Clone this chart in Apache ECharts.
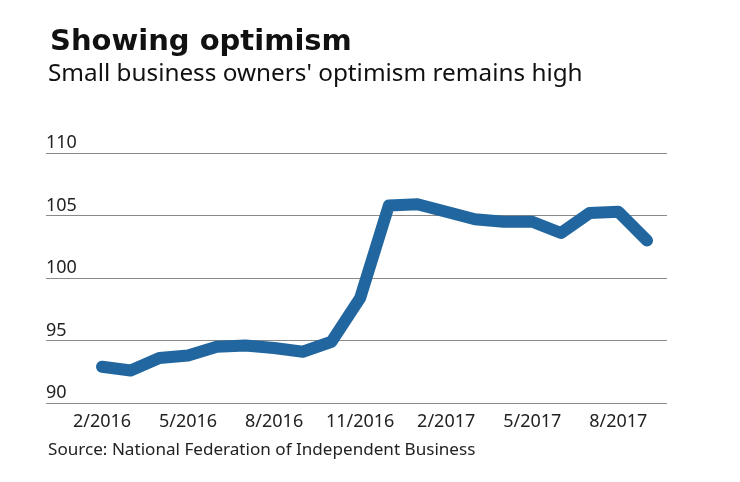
<!DOCTYPE html>
<html>
<head>
<meta charset="utf-8">
<script src="https://cdn.jsdelivr.net/npm/echarts@6/dist/echarts.min.js"></script>
<style>html,body{margin:0;padding:0;background:#fff;}#c{width:740px;height:482px;}</style>
</head>
<body>
<div id="c"></div>
<script>
const months = ['2/2016','3/2016','4/2016','5/2016','6/2016','7/2016','8/2016','9/2016','10/2016','11/2016','12/2016','1/2017','2/2017','3/2017','4/2017','5/2017','6/2017','7/2017','8/2017','9/2017'];
const optimism = [92.9,92.6,93.6,93.8,94.5,94.6,94.4,94.1,94.9,98.4,105.8,105.9,105.3,104.7,104.5,104.5,103.6,105.2,105.3,103.0];
const xLabelIdx = [0,3,6,9,12,15,18];
const yTicks = [90,95,100,105,110];

const chart = echarts.init(document.getElementById('c'), null, {renderer:'canvas'});
const font = 'Noto Sans';
chart.setOption({
  animation:false,
  title:[
    {text:'Showing optimism', left:45, top:23, textStyle:{fontFamily:'DejaVu Sans', fontWeight:'bold', fontSize:29, color:'#111'}},
    {text:"Small business owners' optimism remains high", left:43, top:57, textStyle:{fontFamily:font, fontWeight:'normal', fontSize:24.3, color:'#111'}},
    {text:'Source: National Federation of Independent Business', left:43, top:437, textStyle:{fontFamily:font, fontWeight:'normal', fontSize:17.1, color:'#222'}}
  ],
  grid:{left:46, right:73, top:153, bottom:79},
  xAxis:{type:'value', min:-1.952, max:19.697,
    axisLine:{show:false}, axisTick:{show:false}, splitLine:{show:false},
    axisLabel:{customValues:xLabelIdx, formatter:v=>months[Math.round(v)], fontFamily:font, fontSize:18, color:'#222', margin:10}
  },
  yAxis:{type:'value', min:90, max:110, interval:5,
    axisLine:{show:false}, axisTick:{show:false},
    splitLine:{lineStyle:{color:'#8a8a8a', width:1.2}},
    axisLabel:{inside:true, verticalAlign:'bottom', align:'left', margin:0, padding:[0,0,1,0], fontFamily:font, fontSize:18, color:'#222'}
  },
  series:[{type:'line', data:optimism.map((v,i)=>[i,v]), showSymbol:false, symbol:'none',
    lineStyle:{color:'#21669e', width:12, cap:'round', join:'round'}}]
});
</script>
</body>
</html>
